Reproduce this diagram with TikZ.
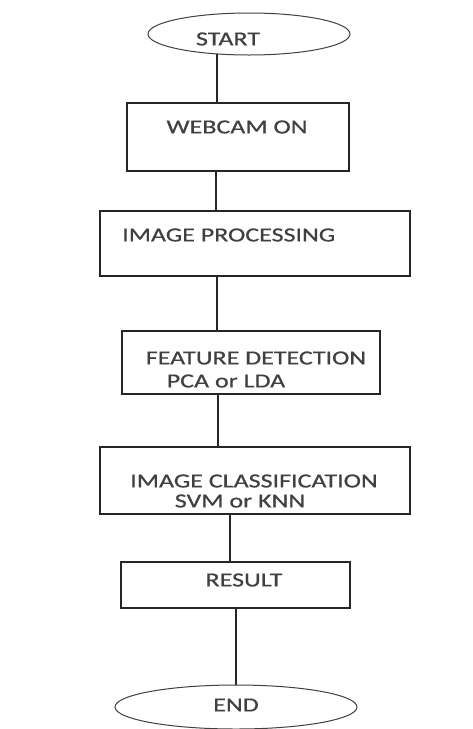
\documentclass[tikz,border=0pt]{standalone}
\usepackage{fontspec}
\setmainfont{Carlito}[FakeStretch=1.3,FakeBold=0.6]
\usetikzlibrary{shapes.geometric,backgrounds}
\begin{document}
\begin{tikzpicture}[x=1pt,y=-1pt,
  boxshape/.style={draw=black!85, line width=1.4pt, fill=white, inner sep=0pt},
  ovalshape/.style={ellipse, draw=black!75, line width=1pt, fill=white, inner sep=0pt},
  lbl/.style={inner sep=0pt, text=black!75, font=\fontsize{20}{24}\selectfont},
  link/.style={draw=black!85, line width=1.4pt}]
\useasboundingbox (0,0) rectangle (472,729);
% shapes
\node[ovalshape, minimum width=202pt, minimum height=42pt] (start) at (249,34) {};
\node[boxshape, minimum width=222pt, minimum height=68pt] (webcam) at (238,137) {};
\node[boxshape, minimum width=310pt, minimum height=65pt] (improc) at (255,243.5) {};
\node[boxshape, minimum width=258pt, minimum height=63pt] (feature) at (251,362.5) {};
\node[boxshape, minimum width=310pt, minimum height=67pt] (classif) at (255,480.5) {};
\node[boxshape, minimum width=229pt, minimum height=46pt] (result) at (235.5,585) {};
\node[ovalshape, minimum width=242pt, minimum height=44pt] (end) at (236,707) {};
% texts
\node[lbl] (tstart) at (228,39) {START};
\node[lbl] (twebcam) at (237,127) {WEBCAM ON};
\node[lbl, anchor=west] (timproc) at (122,235) {IMAGE PROCESSING};
\node[lbl] (tfeat1) at (256,358) {FEATURE DETECTION};
\node[lbl] (tfeat2) at (226,381) {PCA or LDA};
\node[lbl] (tclass1) at (254,481) {IMAGE CLASSIFICATION};
\node[lbl] (tclass2) at (240,501) {SVM or KNN};
\node[lbl] (tresult) at (244,580) {RESULT};
\node[lbl] (tend) at (236,705) {END};
% connector columns
\coordinate (xa) at (217,0);
\coordinate (xb) at (216,0);
\coordinate (xc) at (217,0);
\coordinate (xd) at (218,0);
\coordinate (xe) at (230,0);
\coordinate (xf) at (236,0);
\begin{pgfonlayer}{background}
\draw[link] (start.center -| xa) -- (webcam.center -| xa);
\draw[link] (webcam.center -| xb) -- (improc.center -| xb);
\draw[link] (improc.center -| xc) -- (feature.center -| xc);
\draw[link] (feature.center -| xd) -- (classif.center -| xd);
\draw[link] (classif.center -| xe) -- (result.center -| xe);
\draw[link] (result.center -| xf) -- (end.center -| xf);
\end{pgfonlayer}
\end{tikzpicture}
\end{document}
